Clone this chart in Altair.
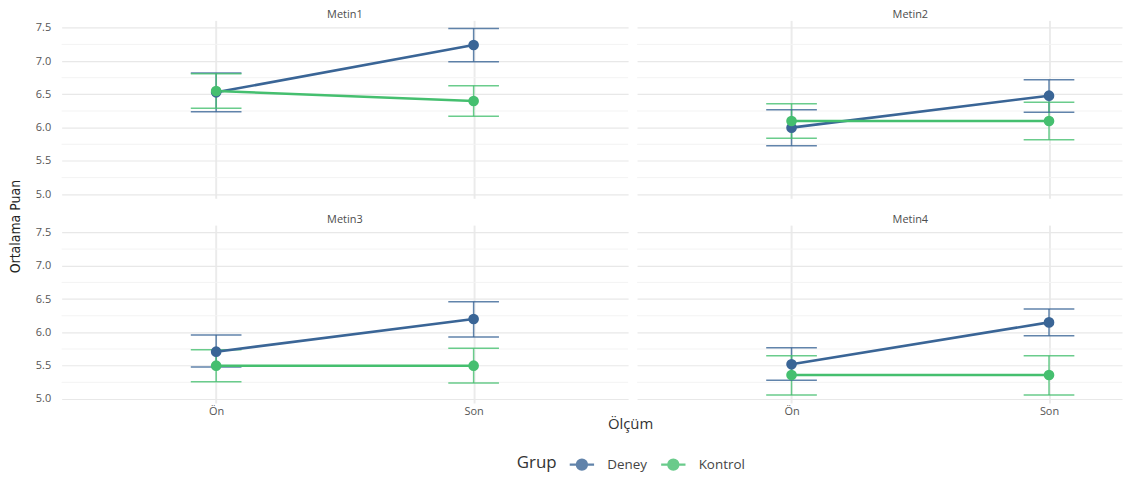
import altair as alt
import pandas as pd

# ---- data ----
panels = ["Metin1", "Metin2", "Metin3", "Metin4"]
groups = ["Deney", "Kontrol"]
olcum = ["Ön", "Son"]

deney_on = [6.53, 6.00, 5.71, 5.52]
deney_son = [7.24, 6.48, 6.20, 6.15]
kontrol_on = [6.55, 6.10, 5.50, 5.36]
kontrol_son = [6.40, 6.10, 5.50, 5.36]

deney_on_lo = [6.24, 5.73, 5.48, 5.28]
deney_on_hi = [6.82, 6.27, 5.96, 5.77]
deney_son_lo = [6.99, 6.23, 5.93, 5.95]
deney_son_hi = [7.49, 6.72, 6.46, 6.35]
kontrol_on_lo = [6.29, 5.84, 5.26, 5.06]
kontrol_on_hi = [6.81, 6.36, 5.74, 5.65]
kontrol_son_lo = [6.17, 5.82, 5.24, 5.06]
kontrol_son_hi = [6.63, 6.38, 5.76, 5.65]

y_major = [5.0, 5.5, 6.0, 6.5, 7.0, 7.5]
y_minor = [5.25, 5.75, 6.25, 6.75, 7.25]

series = {
    ("Deney", "Ön"): (deney_on, deney_on_lo, deney_on_hi),
    ("Deney", "Son"): (deney_son, deney_son_lo, deney_son_hi),
    ("Kontrol", "Ön"): (kontrol_on, kontrol_on_lo, kontrol_on_hi),
    ("Kontrol", "Son"): (kontrol_son, kontrol_son_lo, kontrol_son_hi),
}

rows = []
for pi, p in enumerate(panels):
    for g in groups:
        for oi, o in enumerate(olcum):
            m, lo, hi = series[(g, o)]
            rows.append({"panel": p, "Grup": g, "olcum": o, "xpos": oi + 1,
                         "mean": m[pi], "lo": lo[pi], "hi": hi[pi]})
df = pd.DataFrame(rows)
minor_df = pd.DataFrame({"yv": y_minor})

COLORS = ["#3a6596", "#45bf6f"]
FONT = "Open Sans"
FULL_W = 570
RIGHT_W = 488
H = 179

legend = alt.Legend(
    orient="none", direction="horizontal", legendX=458, legendY=433,
    title="Grup", titleOrient="left", titleFontSize=17, titleFont=FONT,
    titleFontWeight="normal", titleColor="#333", titlePadding=11,
    labelFont=FONT, labelFontSize=13.5, labelColor="#444",
    symbolType="M-1,0L1,0M-0.42,0A0.42,0.42 0 1,1 0.42,0A0.42,0.42 0 1,1 -0.42,0Z",
    symbolSize=600, symbolStrokeWidth=2.2, columnPadding=9, labelOffset=12,
)
color = alt.Color("Grup:N", scale=alt.Scale(domain=groups, range=COLORS), legend=legend)


def panel_chart(idx, right, bottom):
    name = panels[idx]
    width = RIGHT_W if right else FULL_W
    xmax = 0.4 + 2.2 * width / FULL_W
    xaxis = alt.Axis(values=[1, 2], labelExpr="datum.value == 1 ? 'Ön' : 'Son'",
                     labels=bottom, ticks=False, domain=False, grid=True,
                     gridColor="#ebebeb", gridWidth=2, labelFont=FONT, labelFontSize=11,
                     labelColor="#555", labelPadding=3,
                     title=("Ölçüm" if (bottom and not right) else None),
                     titleFont=FONT, titleFontSize=15, titleFontWeight="normal",
                     titleColor="#333", titleX=572, titleY=14)
    yaxis_kwargs = dict(values=y_major, format=".1f",
                        labels=not right, labelOverlap=False, ticks=False, domain=False,
                        grid=True, gridColor="#e8e8e8", gridWidth=1.2, labelFont=FONT,
                        labelFontSize=11, labelColor="#555", labelPadding=11)
    if not right and not bottom:
        yaxis = alt.Axis(title="Ortalama Puan",
                         titleFont="DejaVu Sans Condensed, Roboto, sans-serif",
                         titleFontSize=14, titleFontWeight="normal", titleColor="#222",
                         titleY=207, titlePadding=13, **yaxis_kwargs)
    else:
        yaxis = alt.Axis(title=None, **yaxis_kwargs)

    x = alt.X("xpos:Q", scale=alt.Scale(domain=[0.4, xmax], nice=False, zero=False), axis=xaxis)
    yscale = alt.Scale(domain=[4.94, 7.61], nice=False, zero=False)

    minor = alt.Chart(minor_df).mark_rule(color="#f3f3f3", strokeWidth=1).encode(
        y=alt.Y("yv:Q", scale=yscale, axis=yaxis))

    base = alt.Chart(df).transform_filter(alt.datum.panel == name)
    err = base.mark_rule(strokeWidth=1.5, opacity=0.8).encode(
        x=x, y=alt.Y("lo:Q", scale=yscale, axis=yaxis), y2="hi:Q", color=color)
    cap_lo = base.mark_tick(orient="horizontal", size=51, thickness=1.5, opacity=0.8).encode(
        x=x, y=alt.Y("lo:Q", scale=yscale, axis=yaxis), color=color)
    cap_hi = base.mark_tick(orient="horizontal", size=51, thickness=1.5, opacity=0.8).encode(
        x=x, y=alt.Y("hi:Q", scale=yscale, axis=yaxis), color=color)
    line = base.mark_line(strokeWidth=2.6).encode(
        x=x, y=alt.Y("mean:Q", scale=yscale, axis=yaxis), color=color,
        detail="Grup:N", order="xpos:Q")
    pts = base.mark_point(filled=True, size=115, opacity=1).encode(
        x=x, y=alt.Y("mean:Q", scale=yscale, axis=yaxis), color=color)

    dx = 31 if right else 0
    return alt.layer(minor, err, cap_lo, cap_hi, line, pts).properties(
        width=width, height=H,
        title=alt.TitleParams(name, fontSize=11, font=FONT, fontWeight="normal",
                              color="#4d4d4d", offset=0, anchor="middle", dx=dx),
    )


chart = alt.concat(
    panel_chart(0, False, False), panel_chart(1, True, False),
    panel_chart(2, False, True), panel_chart(3, True, True),
    columns=2, spacing=alt.RowColnumber(row=27, column=9), bounds="flush",
).properties(
    padding={"left": 0, "top": 0, "right": 0, "bottom": 0},
    background="white",
).configure_view(stroke=None)

chart.save("out.html", embed_options={"renderer": "svg", "actions": False})
